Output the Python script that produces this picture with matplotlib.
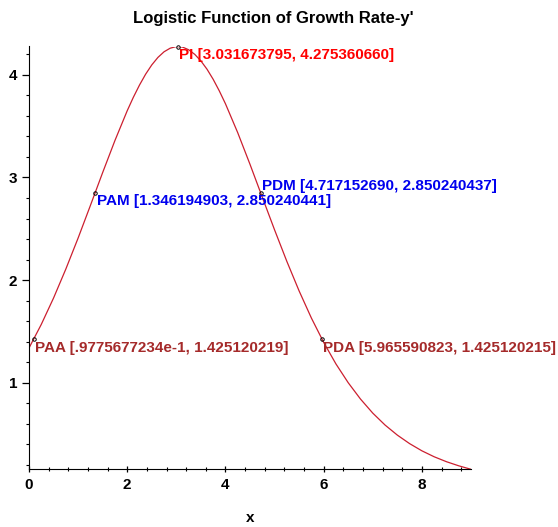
import matplotlib
matplotlib.use("Agg")
import matplotlib.pyplot as plt
from matplotlib.ticker import MultipleLocator

# growth rate y' (finer steps round the peak)
x_vals = [0.0, 0.25, 0.5, 0.75, 1.0, 1.25, 1.5, 1.75, 2.0, 2.125, 2.25, 2.375,
          2.5, 2.625, 2.75, 2.875, 3.0, 3.125, 3.25, 3.375, 3.5, 3.625, 3.75,
          3.875, 4.0, 4.25, 4.5, 4.75, 5.0, 5.25, 5.5, 5.75, 6.0, 6.25, 6.5,
          6.75, 7.0, 7.25, 7.5, 7.75, 8.0, 8.25, 8.5, 8.75, 9.0]
y_vals = [1.339, 1.569, 1.826, 2.108, 2.410, 2.727, 3.048, 3.360, 3.650, 3.781,
          3.900, 4.006, 4.096, 4.169, 4.224, 4.259, 4.275, 4.270, 4.244, 4.199,
          4.135, 4.054, 3.956, 3.843, 3.718, 3.436, 3.128, 2.808, 2.490, 2.183,
          1.895, 1.631, 1.394, 1.184, 1.001, 0.842, 0.705, 0.589, 0.491, 0.408,
          0.338, 0.280, 0.232, 0.192, 0.158]

# labelled points
pt_names = ["PI", "PAM", "PDM", "PAA", "PDA"]
pt_x = [3.031673795, 1.346194903, 4.717152690, 0.09775677234, 5.965590823]
pt_y = [4.275360660, 2.850240441, 2.850240437, 1.425120219, 1.425120215]
pt_text = ["3.031673795, 4.275360660", "1.346194903, 2.850240441",
           "4.717152690, 2.850240437", ".9775677234e-1, 1.425120219",
           "5.965590823, 1.425120215"]
pt_colors = ["#ff0000", "#0000ee", "#0000ee", "#a52a2a", "#a52a2a"]
pt_valign = ["top", "top", "bottom", "top", "top"]

fig = plt.figure(figsize=(5.58, 5.27), dpi=100)
ax = fig.add_axes([29 / 558, 1 - 469.3 / 527, 442 / 558, (469.3 - 46.5) / 527])

ax.plot(x_vals, y_vals, color="#cc1f2f", linewidth=0.9)
ax.plot(pt_x, pt_y, linestyle="none", marker="o", markersize=2.5,
        markerfacecolor="none", markeredgecolor="black", markeredgewidth=0.7,
        clip_on=False)

label_font = ["Liberation Sans"]
for name, px, py, txt, col, va in zip(pt_names, pt_x, pt_y, pt_text, pt_colors, pt_valign):
    ax.annotate(f"{name} [{txt}]", (px, py), xytext=(1, -1 if va == "top" else 0),
                textcoords="offset points", ha="left", va=va, color=col,
                fontsize=11, fontweight="bold", family=label_font, clip_on=False)

ax.set_xlim(0, 9)
ax.set_ylim(0.158, 4.2754)
ax.spines["top"].set_visible(False)
ax.spines["right"].set_visible(False)
ax.xaxis.set_major_locator(MultipleLocator(2))
ax.xaxis.set_minor_locator(MultipleLocator(0.4))
ax.yaxis.set_major_locator(MultipleLocator(1))
ax.yaxis.set_minor_locator(MultipleLocator(0.2))
ax.tick_params(axis="both", which="major", length=5, width=0.9, labelsize=11)
ax.tick_params(axis="both", which="minor", length=2.5, width=0.8)
ax.tick_params(axis="x", which="both", direction="inout")
for lbl in ax.get_xticklabels() + ax.get_yticklabels():
    lbl.set_fontweight("bold")
    lbl.set_family(label_font)

fig.text(273 / 558, 1 - 18 / 527, "Logistic Function of Growth Rate-y'",
         ha="center", va="center", fontsize=12, fontweight="bold", family=label_font)
fig.text(250 / 558, 1 - 518 / 527, "x", ha="center", va="center",
         fontsize=11, fontweight="bold", family=label_font)

fig.savefig("out.png", dpi=100)
